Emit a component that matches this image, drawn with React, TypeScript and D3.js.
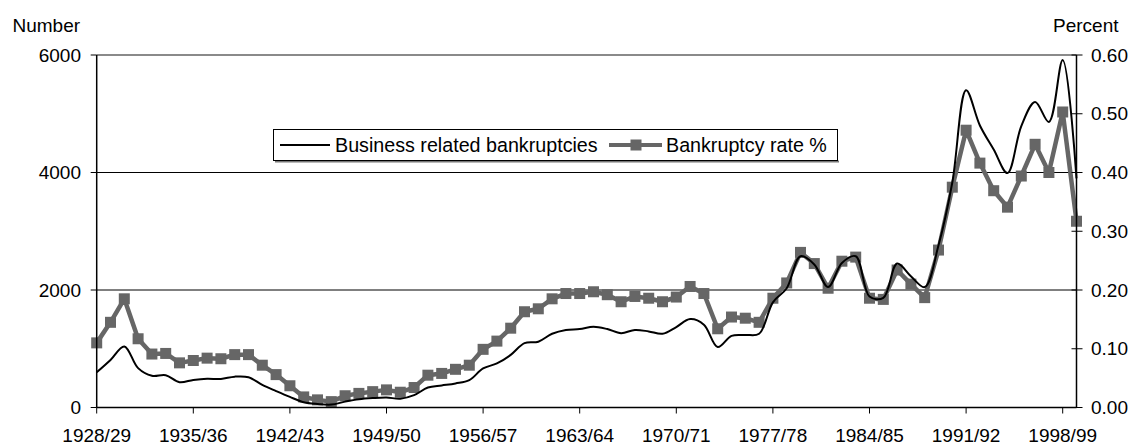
import React from "react";
import * as d3 from "d3";

const startYears: number[] = d3.range(1928, 2000);
const categories: string[] = startYears.map(
  (y) => `${y}/${String((y + 1) % 100).padStart(2, "0")}`
);

const bankruptcies: number[] = [
  600, 810, 1040, 670, 540, 550, 430, 470, 490, 485,
  525, 515, 385, 280, 180, 90, 60, 50, 100, 140,
  160, 170, 150, 210, 340, 375, 410, 465, 665, 750,
  895, 1095, 1120, 1255, 1320, 1335, 1375, 1335, 1265, 1320,
  1295, 1255, 1370, 1505, 1410, 1030, 1220, 1235, 1255, 1790,
  2030, 2575, 2435, 2050, 2460, 2575, 1890, 1865, 2450, 2235,
  2050, 2760, 3830, 5400, 4800, 4390, 3990, 4790, 5200, 4860,
  5915, 3900,
];

const rate: number[] = [
  0.110, 0.145, 0.185, 0.117, 0.091, 0.092, 0.076, 0.080, 0.084, 0.083,
  0.090, 0.090, 0.072, 0.056, 0.037, 0.018, 0.013, 0.010, 0.020, 0.024,
  0.027, 0.030, 0.026, 0.034, 0.055, 0.058, 0.065, 0.072, 0.099, 0.113,
  0.135, 0.163, 0.168, 0.185, 0.194, 0.194, 0.197, 0.192, 0.180, 0.189,
  0.186, 0.180, 0.188, 0.206, 0.194, 0.134, 0.154, 0.152, 0.145, 0.186,
  0.212, 0.264, 0.245, 0.203, 0.249, 0.256, 0.186, 0.184, 0.234, 0.210,
  0.187, 0.268, 0.375, 0.472, 0.416, 0.369, 0.341, 0.394, 0.448, 0.400,
  0.503, 0.317,
];

const leftTicks: number[] = [0, 2000, 4000, 6000];
const rightTicks: number[] = [0, 0.1, 0.2, 0.3, 0.4, 0.5, 0.6];
const seriesNames: string[] = ["Business related bankruptcies", "Bankruptcy rate %"];

const W = 1131;
const H = 444;
const L = 96.7;
const R = 1076.5;
const T = 55;
const B = 407.5;
const FONT = "'Liberation Sans', Arial, sans-serif";
const FS = 19;
const LFS = 19.7;
const GRAY = "#666666";

export default function App() {
  const x = d3.scalePoint<string>().domain(categories).range([L, R]);
  const yL = d3.scaleLinear().domain([0, 6000]).range([B, T]);
  const yR = d3.scaleLinear().domain([0, 0.6]).range([B, T]);

  const blackLine = d3
    .line<number>()
    .x((_, i) => x(categories[i]) as number)
    .y((d) => yL(d))
    .curve(d3.curveCatmullRom.alpha(0.5))(bankruptcies) as string;

  const grayLine = d3
    .line<number>()
    .x((_, i) => x(categories[i]) as number)
    .y((d) => yR(d))(rate) as string;

  const xTickCats = categories.filter((_, i) => i % 7 === 0);
  const ms = 11;

  return (
    <svg
      width={W}
      height={H}
      style={{ position: "absolute", left: 0, top: 0, background: "#fff" }}
      fontFamily={FONT}
      fontSize={FS}
    >
      <rect x={0} y={0} width={W} height={H} fill="#fff" />
      {/* gridlines */}
      {leftTicks
        .filter((t) => t > 0 && t < 6000)
        .map((t) => (
          <line key={"g" + t} x1={L} x2={R} y1={yL(t)} y2={yL(t)} stroke="#000" strokeWidth={1} />
        ))}
      <line x1={L} x2={R} y1={T} y2={T} stroke="#8a8a8a" strokeWidth={2} />

      {/* series */}
      <path d={grayLine} fill="none" stroke={GRAY} strokeWidth={4.5} strokeLinejoin="round" />
      {rate.map((d, i) => (
        <rect
          key={"m" + i}
          x={(x(categories[i]) as number) - ms / 2}
          y={yR(d) - ms / 2}
          width={ms}
          height={ms}
          fill={GRAY}
        />
      ))}
      <path d={blackLine} fill="none" stroke="#000" strokeWidth={2} />

      {/* axes */}
      <line x1={L} x2={L} y1={T} y2={B} stroke="#000" strokeWidth={1.5} />
      <line x1={R} x2={R} y1={T} y2={B} stroke="#000" strokeWidth={1.5} />
      <line x1={L} x2={R} y1={B} y2={B} stroke="#000" strokeWidth={1.5} />

      {leftTicks.map((t) => (
        <g key={"lt" + t}>
          <line x1={L - 6} x2={L} y1={yL(t)} y2={yL(t)} stroke="#000" strokeWidth={1} />
          <text x={81} y={yL(t)} dy="0.35em" textAnchor="end" fill="#000">
            {String(t)}
          </text>
        </g>
      ))}
      {rightTicks.map((t) => (
        <g key={"rt" + t}>
          <line x1={R - 5} x2={R + 6} y1={yR(t)} y2={yR(t)} stroke="#000" strokeWidth={1} />
          <text x={1091} y={yR(t)} dy="0.35em" textAnchor="start" fill="#000">
            {d3.format(".2f")(t)}
          </text>
        </g>
      ))}
      {xTickCats.map((c) => (
        <g key={"xt" + c}>
          <line x1={x(c)} x2={x(c)} y1={B} y2={B + 6} stroke="#000" strokeWidth={1} />
          <text x={x(c)} y={441.5} textAnchor="middle" fill="#000">
            {c}
          </text>
        </g>
      ))}

      <text x={12.5} y={31.5} fill="#000">Number</text>
      <text x={1053} y={31.5} fill="#000">Percent</text>

      {/* legend */}
      <line x1={275} x2={839} y1={161.5} y2={161.5} stroke="#777" strokeWidth={2} />
      <rect x={273.5} y={129.5} width={564} height={31} fill="#fff" stroke="#000" strokeWidth={1} />
      <line x1={280} x2={330} y1={145} y2={145} stroke="#000" strokeWidth={2} />
      <text x={335} y={151.8} fontSize={LFS} fill="#000">{seriesNames[0]}</text>
      <line x1={609} x2={662} y1={145} y2={145} stroke={GRAY} strokeWidth={4} />
      <rect x={636 - 5.5} y={145 - 5.5} width={11} height={11} fill={GRAY} />
      <text x={666} y={151.8} fontSize={LFS} fill="#000">{seriesNames[1]}</text>
    </svg>
  );
}
